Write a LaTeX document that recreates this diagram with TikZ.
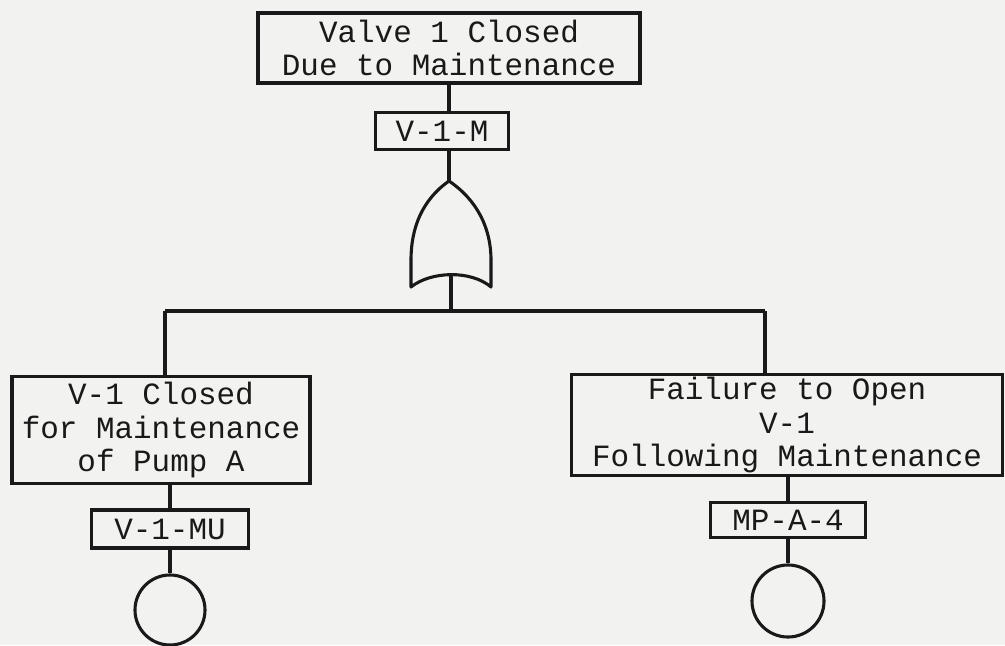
\documentclass[tikz,border=0pt]{standalone}
\usepackage{fontspec}
\setmonofont{Liberation Mono}
\definecolor{paper}{RGB}{242,242,240}
\definecolor{ink}{RGB}{25,25,25}

\tikzset{
	event/.style={draw=ink, line width=2.4pt, inner sep=0pt, align=center, text=ink},
	tag/.style={draw=ink, line width=2.2pt, inner sep=0pt, minimum height=0.93cm, text=ink},
	basic/.style={draw=ink, line width=2.2pt, circle, inner sep=0pt}
}

\begin{document}
\begin{tikzpicture}[x=0.025cm, y=-0.025cm, line width=2.2pt, draw=ink,
	font=\ttfamily\fontsize{22}{23.5}\selectfont]

	% sheet
	\fill[paper] (0,0) rectangle (1005,645);
	\useasboundingbox (0,0) rectangle (1005,645);

	% top event
	\node[event, minimum width=9.55cm, minimum height=1.75cm] (top) at (449,48)
		{Valve 1 Closed\\Due to Maintenance};
	\node[tag, minimum width=3.325cm] (topid) at (442,131) {V-1-M};
	\draw (top.south) -- (top.south |- topid.north);

	% OR gate
	\coordinate (gtop) at (449,181);
	\coordinate (gout) at (451,274);
	\draw (top.south |- topid.south) -- (gtop);
	\draw[line join=round] (gtop) .. controls (422,200) and (411,228) .. (411,260) -- (411,287)
		.. controls (431,271) and (471,270) .. (491,287) -- (491,260)
		.. controls (491,228) and (477,200) .. (gtop);

	% branch bar
	\coordinate (bar) at (451,311);
	\coordinate (barL) at (165,311);
	\coordinate (barR) at (765,311);
	\draw (gout) -- (bar);
	\draw (barL) -- (barR);

	% left branch
	\node[event, minimum width=7.45cm, minimum height=2.675cm] (lbox) at (161,430)
		{V-1 Closed\\for Maintenance\\of Pump A};
	\node[tag, minimum width=3.925cm, minimum height=0.95cm] (lid) at (170,529) {V-1-MU};
	\node[basic, minimum size=1.75cm] (lcirc) at (170,610) {};
	\draw (barL) -- (barL |- lbox.north);
	\draw (lid.north |- lbox.south) -- (lid.north);
	\draw (lid.south) -- (lcirc.north);

	% right branch
	\node[event, minimum width=10.775cm, minimum height=2.525cm] (rbox) at (787,425)
		{Failure to Open\\V-1\\Following Maintenance};
	\node[tag, minimum width=3.875cm, minimum height=0.875cm] (rid) at (788,520) {MP-A-4};
	\node[basic, minimum size=1.8cm] (rcirc) at (788,601) {};
	\draw (barR) -- (barR |- rbox.north);
	\draw (rid.north |- rbox.south) -- (rid.north);
	\draw (rid.south) -- (rcirc.north);

\end{tikzpicture}
\end{document}
